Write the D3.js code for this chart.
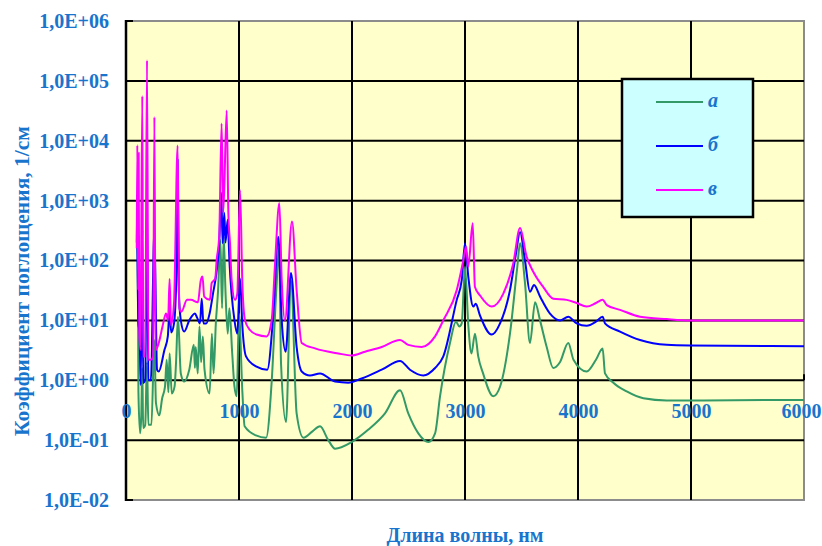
<!DOCTYPE html>
<html>
<head>
<meta charset="utf-8">
<script src="https://cdn.jsdelivr.net/npm/d3@7"></script>
<style>
  html, body { margin: 0; padding: 0; background: #ffffff; }
  svg { display: block; }
  text { font-family: "Liberation Serif", "Times New Roman", serif; font-weight: bold; }
</style>
</head>
<body>
<svg id="chart" width="822" height="546"></svg>
<script>
// Absorption spectra, wavelength in nm and absorption coefficient in 1/cm
const wavelengthA = [95, 102, 110, 125, 135, 144, 152, 170, 186, 198, 225, 251, 265, 295, 320, 345, 360, 375, 386, 405, 430, 443, 460, 485, 515, 560, 600, 610, 617, 635, 650, 665, 680, 695, 740, 760, 775, 795, 815, 835, 850, 865, 880, 900, 915, 940, 960, 980, 1000, 1030, 1050, 1150, 1240, 1290, 1330, 1355, 1372, 1416, 1460, 1510, 1570, 1650, 1717, 1790, 1850, 1997, 2145, 2292, 2425, 2498, 2587, 2676, 2735, 2779, 2867, 2920, 2950, 2971, 3000, 3030, 3057, 3088, 3117, 3160, 3250, 3310, 3398, 3463, 3487, 3531, 3575, 3620, 3664, 3723, 3781, 3840, 3914, 3960, 4077, 4159, 4218, 4239, 4313, 4431, 4578, 4785, 5100, 6000];
const valuesA = [200, 1000, 0.63, 0.13, 0.25, 1.6, 0.16, 0.18, 2.0, 0.18, 0.18, 4.7, 0.42, 0.26, 0.5, 0.78, 2.2, 0.63, 2.8, 0.6, 0.79, 2.0, 11.5, 1.3, 0.95, 1.5, 3.9, 1.6, 3.6, 1.3, 7.9, 2.0, 5.4, 1.5, 0.6, 6.0, 1.3, 8.9, 32, 220, 16, 250, 32, 6.0, 16, 2.8, 0.78, 0.54, 13, 0.63, 0.17, 0.12, 0.11, 1.0, 32, 160, 1.9, 0.2, 47, 0.28, 0.11, 0.14, 0.17, 0.1, 0.072, 0.093, 0.15, 0.28, 0.68, 0.28, 0.13, 0.093, 0.13, 0.54, 4.2, 9.5, 7.9, 8.9, 79, 7.9, 2.8, 6.0, 2.5, 1.3, 0.54, 0.78, 6.0, 79, 195, 42, 4.2, 20, 10, 3.6, 1.6, 2.0, 4.2, 2.2, 1.4, 2.2, 3.4, 1.3, 0.91, 0.65, 0.5, 0.46, 0.46, 0.47];

const wavelengthB = [100, 110, 120, 130, 144, 152, 170, 186, 198, 220, 251, 275, 290, 340, 370, 386, 400, 425, 447, 457, 467, 485, 515, 560, 610, 630, 655, 670, 685, 710, 740, 770, 800, 825, 843, 855, 870, 880, 900, 915, 960, 985, 1009, 1030, 1062, 1150, 1250, 1304, 1348, 1378, 1413, 1460, 1510, 1555, 1628, 1717, 1850, 1967, 2086, 2263, 2425, 2513, 2631, 2735, 2808, 2927, 2971, 3000, 3029, 3073, 3095, 3133, 3236, 3310, 3398, 3451, 3487, 3531, 3575, 3611, 3664, 3752, 3841, 3914, 3988, 4077, 4159, 4218, 4239, 4372, 4549, 4785, 4991, 6000];
const valuesB = [180, 8.9, 6.3, 0.83, 320, 0.9, 1.0, 1000, 1.0, 1.0, 320, 1.5, 1.4, 3.2, 5.4, 15, 6.3, 8.9, 69, 4800, 32, 10, 6.5, 10, 13, 11, 8.9, 23, 8.9, 8.9, 13, 28, 62, 200, 1350, 195, 620, 200, 480, 100, 10, 6.0, 50, 7.9, 2.5, 1.7, 1.5, 13, 250, 10, 3.0, 62, 3.6, 1.4, 1.2, 1.3, 0.95, 0.91, 1.07, 1.5, 2.1, 1.5, 1.2, 1.6, 2.5, 22, 47, 195, 54, 17, 19, 12, 5.8, 8.9, 32, 130, 300, 100, 30, 39, 25, 13, 10, 11.5, 8.9, 8.1, 9.5, 11.5, 8.9, 6.5, 4.7, 3.9, 3.8, 3.7];

const wavelengthC = [95, 100, 108, 112, 118, 128, 144, 152, 170, 186, 198, 220, 240, 251, 262, 290, 323, 354, 372, 386, 398, 425, 457, 472, 490, 540, 575, 636, 662, 677, 692, 743, 758, 790, 802, 825, 846, 861, 891, 906, 920, 935, 965, 985, 1009, 1030, 1053, 1097, 1156, 1245, 1289, 1319, 1357, 1378, 1407, 1469, 1510, 1555, 1673, 1879, 1997, 2115, 2263, 2425, 2498, 2617, 2735, 2808, 2927, 2985, 3009, 3029, 3068, 3088, 3133, 3236, 3339, 3427, 3487, 3546, 3604, 3693, 3781, 3900, 3988, 4077, 4159, 4218, 4254, 4372, 4549, 4785, 4991, 6000];
const valuesC = [160, 8500, 32, 6300, 6.3, 3.2, 56000, 2.5, 2.5, 220000, 2.2, 2.2, 2.5, 25000, 3.2, 4.2, 7.9, 13, 10, 49, 8.3, 19.5, 8300, 16, 14, 22, 22, 20, 47, 54, 25, 22, 42, 50, 100, 250, 19500, 620, 32000, 620, 200, 47, 22, 28, 1500, 40, 10, 6.9, 5.8, 5.4, 10, 89, 910, 47, 10, 450, 32, 4.2, 3.4, 2.8, 2.6, 3.0, 3.6, 4.7, 3.9, 3.6, 5.4, 10, 32, 100, 170, 79, 420, 36, 26, 17, 28, 89, 350, 115, 65, 36, 23, 22, 19.5, 17, 19.5, 22, 18, 15, 11.5, 10.5, 10, 10];

const seriesNames = ["а", "б", "в"];
const seriesColors = ["#339966", "#0000ff", "#ff00ff"];

const xTicks = [0, 1000, 2000, 3000, 4000, 5000, 6000];
const yTicks = [1e-2, 1e-1, 1e0, 1e1, 1e2, 1e3, 1e4, 1e5, 1e6];

const xTitle = "Длина волны, нм";
const yTitle = "Коэффициент поглощения, 1/см";

const textColor = "#1874cd";

const svg = d3.select("#chart");
const plot = { left: 126, right: 804, top: 21, bottom: 500 };

const x = d3.scaleLinear().domain([0, 6000]).range([plot.left, plot.right]);
const y = d3.scaleLog().domain([1e-2, 1e6]).range([plot.bottom, plot.top]);

// plot area
svg.append("rect")
  .attr("x", plot.left).attr("y", plot.top)
  .attr("width", plot.right - plot.left).attr("height", plot.bottom - plot.top)
  .attr("fill", "#ffffcc")
  .attr("stroke", "#8c8c8c").attr("stroke-width", 2);

// grid
const grid = svg.append("g").attr("stroke", "#000").attr("stroke-width", 2);
grid.selectAll("line.h").data(yTicks.slice(1, -1)).join("line")
  .attr("class", "h")
  .attr("x1", plot.left).attr("x2", plot.right)
  .attr("y1", d => y(d)).attr("y2", d => y(d));
grid.selectAll("line.v").data(xTicks.slice(1, -1)).join("line")
  .attr("class", "v")
  .attr("x1", d => x(d)).attr("x2", d => x(d))
  .attr("y1", plot.top).attr("y2", plot.bottom);

// y axis line and tick marks
svg.append("line")
  .attr("x1", plot.left).attr("x2", plot.left)
  .attr("y1", plot.top - 1).attr("y2", plot.bottom + 1)
  .attr("stroke", "#000").attr("stroke-width", 2.5);
svg.append("g").selectAll("line").data([yTicks[0], yTicks[yTicks.length - 1]]).join("line")
  .attr("x1", plot.left).attr("x2", plot.left + 7)
  .attr("y1", d => y(d)).attr("y2", d => y(d))
  .attr("stroke", "#000").attr("stroke-width", 2);
// x axis tick at the right end, crossing at 1
svg.append("line")
  .attr("x1", x(6000)).attr("x2", x(6000))
  .attr("y1", y(1) - 6).attr("y2", y(1))
  .attr("stroke", "#000").attr("stroke-width", 2);

// series lines
const line = d3.line()
  .x(d => x(d[0]))
  .y(d => y(d[1]))
  .curve(d3.curveMonotoneX);

const seriesData = [
  d3.zip(wavelengthA, valuesA),
  d3.zip(wavelengthB, valuesB),
  d3.zip(wavelengthC, valuesC)
];

svg.append("defs").append("clipPath").attr("id", "clip")
  .append("rect")
  .attr("x", plot.left).attr("y", plot.top)
  .attr("width", plot.right - plot.left).attr("height", plot.bottom - plot.top);

svg.append("g").attr("clip-path", "url(#clip)")
  .selectAll("path").data(seriesData).join("path")
  .attr("d", line)
  .attr("fill", "none")
  .attr("stroke", (d, i) => seriesColors[i])
  .attr("stroke-width", 2)
  .attr("stroke-linejoin", "round");

// y tick labels
const fmtExp = v => {
  const e = Math.round(Math.log10(v));
  const s = e < 0 ? "-" : "+";
  return "1,0E" + s + String(Math.abs(e)).padStart(2, "0");
};
const yAxis = svg.append("g")
  .attr("transform", `translate(${plot.left},0)`)
  .call(d3.axisLeft(y).tickValues(yTicks).tickFormat(fmtExp).tickSize(0).tickPadding(17));
yAxis.select(".domain").remove();
yAxis.selectAll("text")
  .attr("fill", textColor)
  .style("font-size", "20px")
  .style("font-family", "'Liberation Serif', serif")
  .style("font-weight", "bold");

// x tick labels, axis crossing at 1
const xAxis = svg.append("g")
  .attr("transform", `translate(0,${y(1)})`)
  .call(d3.axisBottom(x).tickValues(xTicks).tickFormat(d3.format("d")).tickSize(0));
xAxis.select(".domain").remove();
xAxis.selectAll("text")
  .attr("y", 31).attr("dy", "0.35em")
  .attr("fill", textColor)
  .style("font-size", "20px")
  .style("font-family", "'Liberation Serif', serif")
  .style("font-weight", "bold");
// the last label is kept inside the page
xAxis.selectAll(".tick").filter(d => d === 6000).select("text")
  .attr("text-anchor", "end").attr("x", 821 - x(6000));

// axis titles
svg.append("text")
  .attr("x", 465).attr("y", 537)
  .attr("text-anchor", "middle").attr("dominant-baseline", "middle")
  .attr("fill", textColor)
  .style("font-size", "20px")
  .text(xTitle);

svg.append("text")
  .attr("transform", `translate(24,${281}) rotate(-90)`)
  .attr("text-anchor", "middle").attr("dominant-baseline", "middle")
  .attr("fill", textColor)
  .style("font-size", "21.5px")
  .text(yTitle);

// legend
const legend = svg.append("g");
legend.append("rect")
  .attr("x", 622).attr("y", 79).attr("width", 131).attr("height", 138)
  .attr("fill", "#ccffff").attr("stroke", "#000").attr("stroke-width", 2.5);
const legendY = [102, 146, 190];
seriesNames.forEach((name, i) => {
  legend.append("line")
    .attr("x1", 656).attr("x2", 703)
    .attr("y1", legendY[i]).attr("y2", legendY[i])
    .attr("stroke", seriesColors[i]).attr("stroke-width", 2);
  legend.append("text")
    .attr("x", 708).attr("y", legendY[i])
    .attr("dominant-baseline", "middle")
    .attr("fill", textColor)
    .style("font-size", "20px")
    .style("font-style", "italic")
    .text(name);
});
</script>
</body>
</html>
